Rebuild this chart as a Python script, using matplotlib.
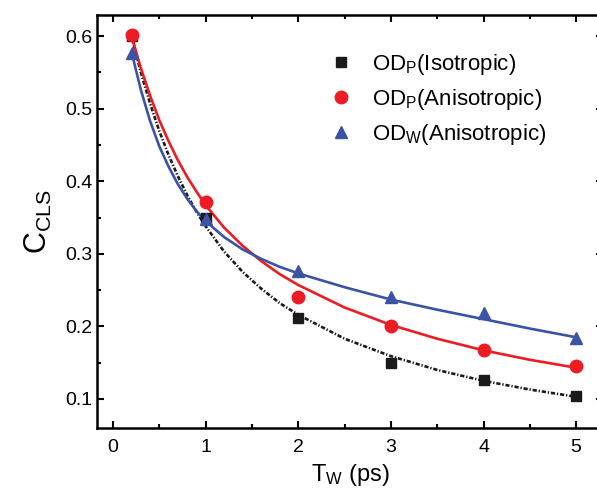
import numpy as np
import matplotlib
matplotlib.use("Agg")
import matplotlib.pyplot as plt
from matplotlib.ticker import MultipleLocator

plt.rcParams['font.family'] = ['Liberation Sans', 'DejaVu Sans']
plt.rcParams['mathtext.fontset'] = 'custom'
plt.rcParams['mathtext.rm'] = 'Liberation Sans'
plt.rcParams['mathtext.it'] = 'Liberation Sans'

# measured points
tw = [0.2, 1, 2, 3, 4, 5]
iso_p = [0.600, 0.350, 0.211, 0.150, 0.126, 0.104]
aniso_p = [0.601, 0.372, 0.240, 0.200, 0.167, 0.145]
aniso_w = [0.577, 0.348, 0.276, 0.240, 0.219, 0.184]

# fit curves
tw_fit = [0.2, 0.3, 0.4, 0.5, 0.6, 0.7, 0.8, 0.9, 1.0, 1.2, 1.4, 1.6, 1.8,
          2.0, 2.5, 3.0, 3.5, 4.0, 4.5, 5.0]
iso_p_fit = [0.600, 0.550, 0.507, 0.469, 0.436, 0.407, 0.381, 0.358, 0.338,
             0.303, 0.275, 0.252, 0.232, 0.216, 0.183, 0.159, 0.140, 0.125,
             0.113, 0.103]
aniso_p_fit = [0.600, 0.556, 0.518, 0.484, 0.455, 0.429, 0.406, 0.386, 0.367,
               0.336, 0.311, 0.290, 0.272, 0.257, 0.226, 0.202, 0.183, 0.167,
               0.154, 0.143]
aniso_w_fit = [0.578, 0.526, 0.483, 0.448, 0.420, 0.396, 0.376, 0.359, 0.345,
               0.323, 0.306, 0.293, 0.282, 0.273, 0.254, 0.237, 0.223, 0.210,
               0.197, 0.185]

red = '#ED1C24'
blue = '#3A53A4'
black = '#1A1A1A'

fig = plt.figure(figsize=(5.97, 4.90), dpi=100)
ax = fig.add_axes([97/597, 62/490, 506/597, 413/490])

ax.plot(tw_fit, iso_p_fit, color=black, lw=1.9, dashes=(1.6, 0.7, 0.5, 0.7))
ax.plot(tw_fit, aniso_p_fit, color=red, lw=1.9)
ax.plot(tw_fit, aniso_w_fit, color=blue, lw=1.9)

ax.plot(tw, iso_p, 's', color=black, ms=7, ls='none', label=r'OD$_\mathregular{P}$(Isotropic)')
ax.plot(tw, aniso_p, 'o', color=red, ms=9, ls='none', label=r'OD$_\mathregular{P}$(Anisotropic)')
ax.plot(tw, aniso_w, '^', color=blue, ms=9, ls='none', label=r'OD$_\mathregular{W}$(Anisotropic)')

ax.set_xlim(-0.173, 5.29)
ax.set_ylim(0.06, 0.629)
ax.xaxis.set_major_locator(MultipleLocator(1))
ax.xaxis.set_minor_locator(MultipleLocator(0.5))
ax.yaxis.set_major_locator(MultipleLocator(0.1))
ax.yaxis.set_minor_locator(MultipleLocator(0.05))
ax.tick_params(which='both', direction='in', top=True, right=True, width=1.5, labelsize=14)
ax.tick_params(which='major', length=5)
ax.tick_params(which='minor', length=3)
ax.tick_params(axis='x', pad=8)
for s in ax.spines.values():
    s.set_linewidth(1.8)

ax.set_xlabel(r'T$_\mathregular{W}$ (ps)', fontsize=17, labelpad=4)
ax.set_ylabel(r'C$_\mathregular{CLS}$', fontsize=22, labelpad=8)

ax.legend(loc='upper left', bbox_to_anchor=(330/597, 1 - 52/490), bbox_transform=fig.transFigure,
          frameon=False, fontsize=16, handlelength=1.0, handletextpad=0.9,
          borderpad=0, borderaxespad=0, labelspacing=0.45)

fig.savefig('out.png', dpi=100)
